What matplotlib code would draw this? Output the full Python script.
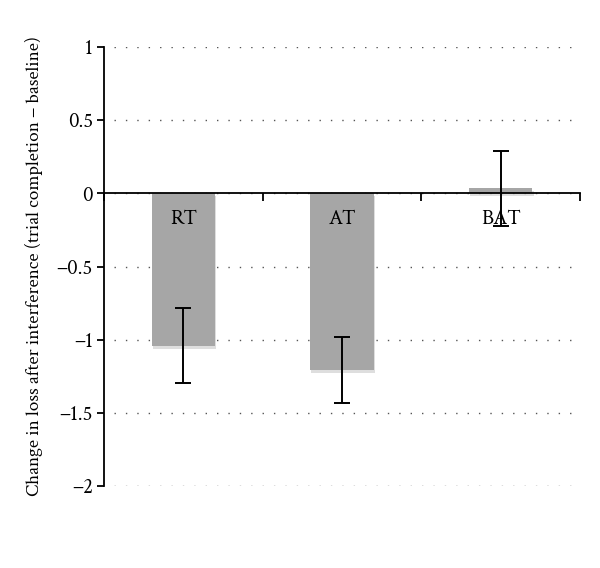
import matplotlib
matplotlib.use("Agg")
import matplotlib.pyplot as plt
import matplotlib.patheffects as pe
import numpy as np

categories = ["RT", "AT", "BAT"]
means = [-1.04, -1.21, 0.035]
errors = [0.255, 0.225, 0.255]
yticks = [1, 0.5, 0, -0.5, -1, -1.5, -2]
ytick_labels = ["1", "0.5", "0", "−0.5", "−1", "−1.5", "−2"]

plt.rcParams['font.family'] = ['Crimson Text', 'Liberation Serif', 'DejaVu Serif']

fig = plt.figure(figsize=(6.0, 5.68), dpi=100)
ax = fig.add_axes([104/600, 1-486/568, 476/600, 439/568])

x = np.arange(len(categories)) + 0.5
bars = ax.bar(x, means, width=0.4, color='#a6a6a6', zorder=2)
for b in bars:
    b.set_path_effects([pe.SimplePatchShadow(offset=(0.8, -2.2), shadow_rgbFace='#c8c8c8', alpha=0.6), pe.Normal()])
ax.errorbar(x, means, yerr=errors, fmt='none', ecolor='black', elinewidth=1.4, capsize=5.5, capthick=1.4, zorder=4)

for xi, lab in zip(x, categories):
    ax.text(xi, -0.175, lab, ha='center', va='center', fontsize=15, zorder=5)

ax.set_xlim(0, 3)
ax.set_ylim(-2, 1)
ax.set_yticks(yticks)
ax.set_yticklabels(ytick_labels)
for v in yticks:
    ax.axhline(v, xmin=0.02, xmax=1.0, color='#555555', lw=1.0, linestyle=(0, (1, 7.2)), zorder=1)

ax.set_xticks([0, 1, 2, 3])
ax.set_xticklabels([])
ax.spines['top'].set_visible(False)
ax.spines['right'].set_visible(False)
ax.spines['bottom'].set_position(('data', 0))
ax.spines['left'].set_linewidth(1.3)
ax.spines['bottom'].set_linewidth(1.3)
ax.spines['bottom'].set_zorder(3)
ax.tick_params(axis='y', direction='out', length=5, width=1.3, labelsize=15, pad=3)
ax.tick_params(axis='x', direction='out', length=6, width=1.3)

ax.set_ylabel("Change in loss after interference (trial completion − baseline)", fontsize=13.8, labelpad=10)

fig.savefig("out.png", dpi=100)
